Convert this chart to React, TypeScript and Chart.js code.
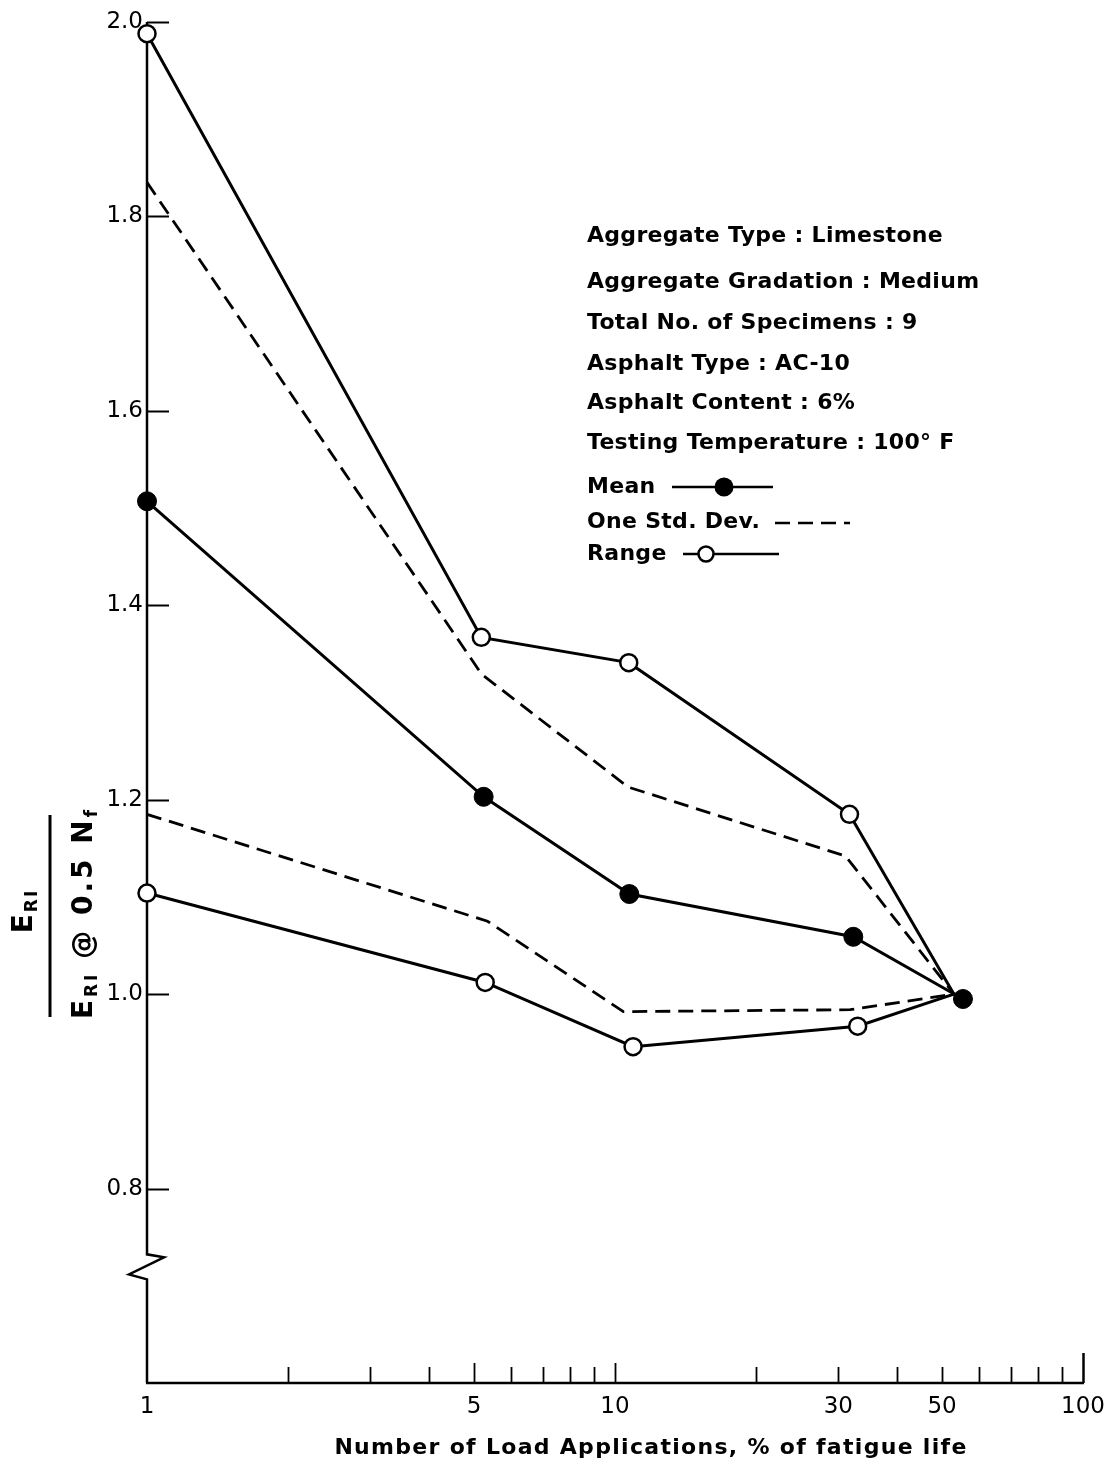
import React, { useEffect, useRef } from "react";
import { Chart, registerables } from "chart.js";

Chart.register(...registerables);

// ---- data ----
const meanX = [1, 5.24, 10.73, 32.3, 55.4];
const meanY = [1.507, 1.203, 1.103, 1.059, 0.995];
const rangeUpperX = [1, 5.18, 10.7, 31.7, 53];
const rangeUpperY = [1.988, 1.367, 1.341, 1.185, 1.0];
const rangeLowerX = [1, 5.28, 10.93, 33.0, 53];
const rangeLowerY = [1.104, 1.012, 0.946, 0.967, 1.0];
const stdUpperX = [1, 5.19, 10.67, 31.1, 53];
const stdUpperY = [1.835, 1.329, 1.213, 1.142, 1.0];
const stdLowerX = [1, 5.34, 10.42, 31.8, 53];
const stdLowerY = [1.185, 1.075, 0.982, 0.984, 1.0];

const xTickValues = [1, 2, 3, 4, 5, 6, 7, 8, 9, 10, 20, 30, 40, 50, 60, 70, 80, 90, 100];
const xLabelValues = [1, 5, 10, 30, 50, 100];
const xMajorTicks = [5, 10];
const yTickValues = [0.8, 1.0, 1.2, 1.4, 1.6, 1.8, 2.0];
const yBreakValue = 0.72;

const infoLines = [
  "Aggregate Type : Limestone",
  "Aggregate Gradation : Medium",
  "Total No. of Specimens : 9",
  "Asphalt Type : AC-10",
  "Asphalt Content : 6%",
  "Testing Temperature : 100° F",
];
const legendLabels = ["Mean", "One Std. Dev.", "Range"];
const xTitle = "Number of Load Applications, % of fatigue life";

const FONT = '"DejaVu Sans", sans-serif';

function pts(xs: number[], ys: number[]) {
  return xs.map((x, i) => ({ x, y: ys[i] }));
}

const decorPlugin = {
  id: "decor",
  beforeDatasetsDraw(chart: any) {
    const { ctx, chartArea, scales } = chart;
    const xs = scales.x;
    const ys = scales.y;
    const ax = chartArea.left;
    const bottom = chartArea.bottom;
    ctx.save();
    ctx.strokeStyle = "#000";
    ctx.lineCap = "butt";
    ctx.lineJoin = "miter";
    // y axis with break
    const bc = ys.getPixelForValue(yBreakValue);
    ctx.lineWidth = 2.5;
    ctx.beginPath();
    ctx.moveTo(ax, chartArea.top);
    ctx.lineTo(ax, bc - 12);
    ctx.lineTo(ax + 17, bc - 9);
    ctx.lineTo(ax - 18, bc + 8);
    ctx.lineTo(ax, bc + 13);
    ctx.lineTo(ax, bottom);
    ctx.stroke();
    // x axis
    const right = xs.getPixelForValue(100);
    ctx.beginPath();
    ctx.moveTo(ax - 1, bottom);
    ctx.lineTo(right + 1, bottom);
    ctx.stroke();
    // y ticks (inward)
    ctx.lineWidth = 2;
    for (const v of yTickValues) {
      const py = Math.round(ys.getPixelForValue(v)) + 0.5;
      ctx.beginPath();
      ctx.moveTo(ax, py);
      ctx.lineTo(ax + 22, py);
      ctx.stroke();
    }
    // x ticks (inward)
    for (const v of xTickValues) {
      if (v === 1) continue;
      const px = Math.round(xs.getPixelForValue(v)) + 0.5;
      const len = v === 100 ? 30 : xMajorTicks.includes(v) ? 20 : 16;
      ctx.lineWidth = v === 100 ? 2.5 : 1.8;
      ctx.beginPath();
      ctx.moveTo(px, bottom);
      ctx.lineTo(px, bottom - len);
      ctx.stroke();
    }
    ctx.restore();
  },
  afterDraw(chart: any) {
    const { ctx } = chart;
    ctx.save();
    ctx.fillStyle = "#000";
    ctx.strokeStyle = "#000";
    ctx.textBaseline = "middle";
    ctx.textAlign = "left";
    // info block
    ctx.font = `bold 22px ${FONT}`;
    (ctx as any).letterSpacing = "0.3px";
    const infoY = [236, 282, 323, 364, 403, 443];
    infoLines.forEach((t, i) => ctx.fillText(t, 587, infoY[i]));
    const legY = [487, 522, 554];
    legendLabels.forEach((t, i) => ctx.fillText(t, 587, legY[i]));
    (ctx as any).letterSpacing = "0px";
    // legend symbols
    ctx.lineWidth = 2.5;
    ctx.beginPath();
    ctx.moveTo(672, legY[0]);
    ctx.lineTo(773, legY[0]);
    ctx.stroke();
    ctx.beginPath();
    ctx.arc(724, legY[0], 9.5, 0, Math.PI * 2);
    ctx.fill();
    ctx.setLineDash([15, 8]);
    ctx.beginPath();
    ctx.moveTo(775, legY[1] + 1);
    ctx.lineTo(850, legY[1] + 1);
    ctx.stroke();
    ctx.setLineDash([]);
    ctx.beginPath();
    ctx.moveTo(683, legY[2]);
    ctx.lineTo(779, legY[2]);
    ctx.stroke();
    ctx.beginPath();
    ctx.arc(706, legY[2], 7.5, 0, Math.PI * 2);
    ctx.fillStyle = "#fff";
    ctx.fill();
    ctx.stroke();
    ctx.fillStyle = "#000";

    // x title
    ctx.textAlign = "center";
    ctx.font = `bold 22px ${FONT}`;
    (ctx as any).letterSpacing = "1.3px";
    ctx.fillText(xTitle, 651, 1448);
    (ctx as any).letterSpacing = "0px";

    // y title (rotated fraction)
    const drawRich = (parts: [string, number, number][], bx: number, cy: number, sp: number) => {
      ctx.save();
      ctx.translate(bx, cy);
      ctx.rotate(-Math.PI / 2);
      ctx.textAlign = "left";
      ctx.textBaseline = "alphabetic";
      (ctx as any).letterSpacing = sp + "px";
      let w = 0;
      for (const [t, s] of parts) {
        ctx.font = `bold ${s}px ${FONT}`;
        w += ctx.measureText(t).width;
      }
      let x = -w / 2;
      for (const [t, s, off] of parts) {
        ctx.font = `bold ${s}px ${FONT}`;
        ctx.fillText(t, x, off);
        x += ctx.measureText(t).width;
      }
      ctx.restore();
    };
    drawRich([["E", 28, 0], ["RI", 17, 5]], 32, 911, 2);
    ctx.lineWidth = 3;
    ctx.beginPath();
    ctx.moveTo(50, 815);
    ctx.lineTo(50, 1017);
    ctx.stroke();
    drawRich(
      [["E", 28, 0], ["RI", 17, 5], [" @ 0.5 N", 28, 0], ["f", 17, 5]],
      92,
      913,
      3
    );
    ctx.restore();
  },
};

export default function App() {
  const ref = useRef<HTMLCanvasElement>(null);
  useEffect(() => {
    document.body.style.margin = "0";
    const canvas = ref.current!;
    const openPoint = (n: number) => (c: any) => (c.dataIndex === n - 1 ? 0 : 8.5);
    const chart = new Chart(canvas, {
      type: "line",
      data: {
        datasets: [
          {
            label: "Mean",
            data: pts(meanX, meanY),
            borderColor: "#000",
            borderWidth: 3,
            pointRadius: 9.5,
            pointBackgroundColor: "#000",
            pointBorderColor: "#000",
            pointBorderWidth: 1,
            tension: 0,
          },
          {
            label: "Range (upper)",
            data: pts(rangeUpperX, rangeUpperY),
            borderColor: "#000",
            borderWidth: 3,
            pointRadius: openPoint(rangeUpperX.length),
            pointBackgroundColor: "#fff",
            pointBorderColor: "#000",
            pointBorderWidth: 2.5,
            tension: 0,
          },
          {
            label: "Range (lower)",
            data: pts(rangeLowerX, rangeLowerY),
            borderColor: "#000",
            borderWidth: 3,
            pointRadius: openPoint(rangeLowerX.length),
            pointBackgroundColor: "#fff",
            pointBorderColor: "#000",
            pointBorderWidth: 2.5,
            tension: 0,
          },
          {
            label: "One Std. Dev. (upper)",
            data: pts(stdUpperX, stdUpperY),
            borderColor: "#000",
            borderWidth: 2.8,
            borderDash: [15, 8],
            pointRadius: 0,
            tension: 0,
          },
          {
            label: "One Std. Dev. (lower)",
            data: pts(stdLowerX, stdLowerY),
            borderColor: "#000",
            borderWidth: 2.8,
            borderDash: [15, 8],
            pointRadius: 0,
            tension: 0,
          },
        ],
      },
      options: {
        animation: false,
        responsive: false,
        devicePixelRatio: 1,
        parsing: false,
        normalized: true,
        clip: false,
        layout: { padding: { top: 22, right: 25, left: 0, bottom: 0 } },
        plugins: {
          legend: { display: false },
          tooltip: { enabled: false },
          title: { display: false },
        },
        scales: {
          x: {
            type: "logarithmic",
            min: 1,
            max: 100,
            position: "bottom",
            grid: { display: false, drawTicks: false },
            border: { display: false },
            afterBuildTicks: (s: any) => {
              s.ticks = xTickValues.map((v) => ({ value: v }));
            },
            afterFit: (s: any) => {
              s.height = 85;
              s.paddingLeft = 0;
              s.paddingRight = 0;
            },
            ticks: {
              autoSkip: false,
              maxRotation: 0,
              padding: 10,
              color: "#000",
              font: { family: FONT, size: 23 },
              callback: (v: any) => (xLabelValues.includes(Number(v)) ? String(v) : ""),
            },
          },
          y: {
            type: "linear",
            min: 0.6,
            max: 2.0,
            grid: { display: false, drawTicks: false },
            border: { display: false },
            afterBuildTicks: (s: any) => {
              s.ticks = yTickValues.map((v) => ({ value: v }));
            },
            afterFit: (s: any) => {
              s.width = 147;
              s.paddingTop = 0;
              s.paddingBottom = 0;
            },
            ticks: {
              padding: 4,
              color: "#000",
              font: { family: FONT, size: 23 },
              callback: (v: any) => Number(v).toFixed(1),
            },
          },
        },
      } as any,
      plugins: [decorPlugin],
    });
    return () => chart.destroy();
  }, []);
  return (
    <div style={{ width: 1108, height: 1468, overflow: "hidden", background: "#fff" }}>
      <canvas ref={ref} width={1108} height={1468} style={{ display: "block" }} />
    </div>
  );
}
